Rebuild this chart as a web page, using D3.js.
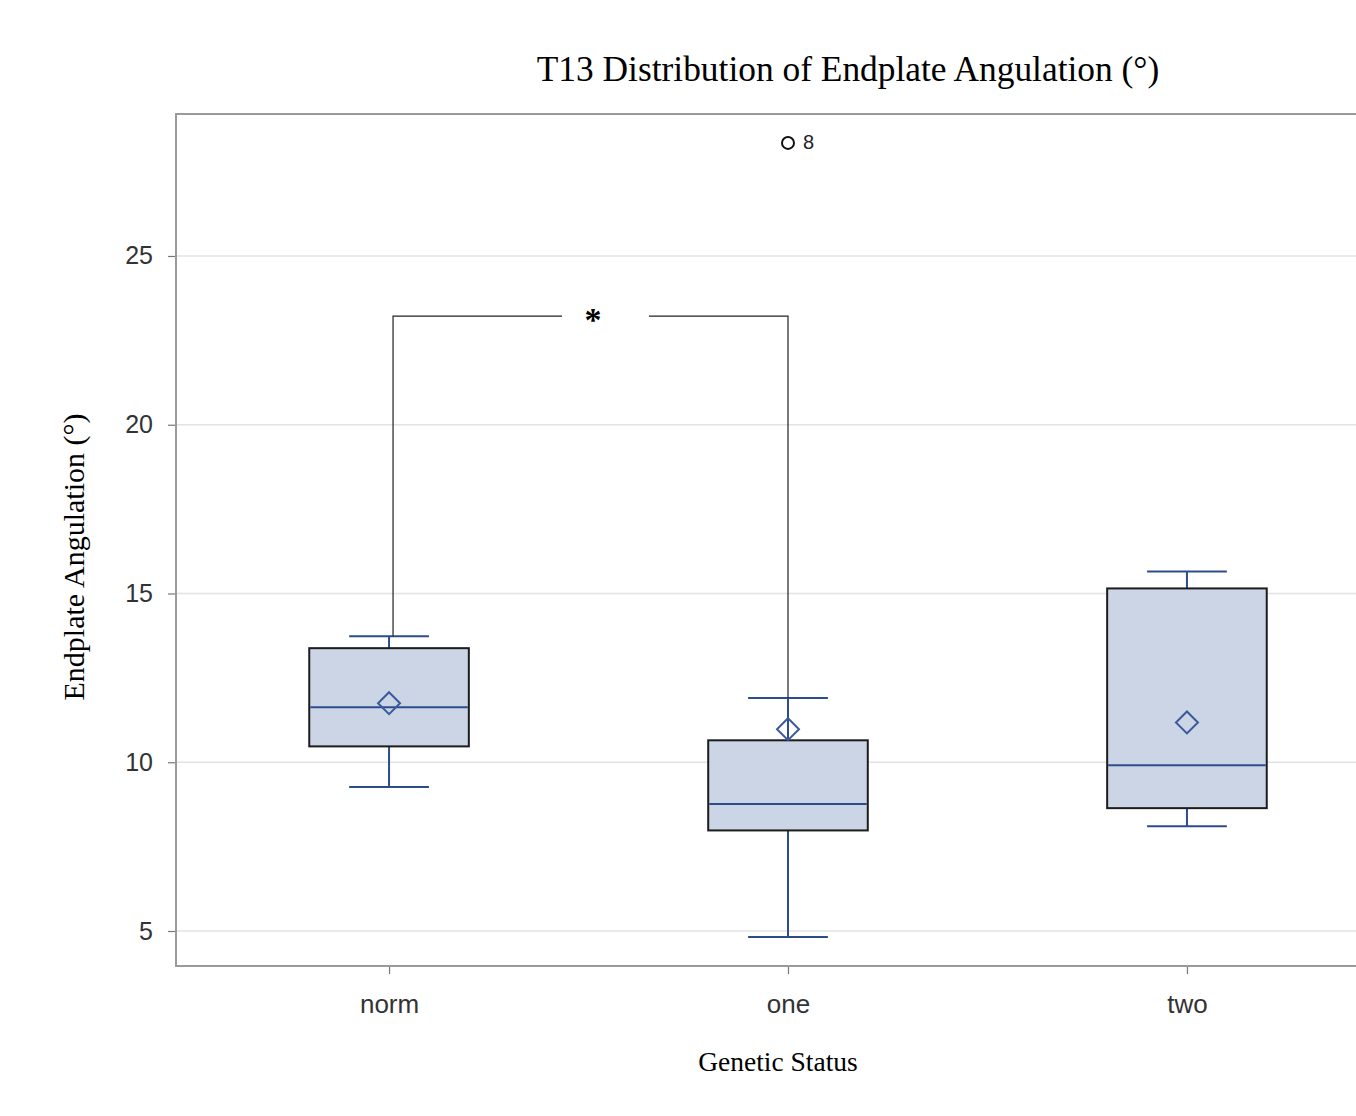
<!DOCTYPE html>
<html>
<head>
<meta charset="utf-8">
<script src="https://cdn.jsdelivr.net/npm/d3@7"></script>
<style>
  html, body { margin: 0; padding: 0; background: #fff; overflow: hidden; }
</style>
</head>
<body>
<div id="chart"></div>
<script>
// data
const categories = ['norm', 'one', 'two']
const whiskerLow = [9.27, 4.82, 8.1]
const q1 = [10.47, 7.98, 8.64]
const median = [11.63, 8.76, 9.91]
const q3 = [13.38, 10.65, 15.15]
const whiskerHigh = [13.73, 11.9, 15.65]
const means = [11.75, 10.98, 11.18]
const outlierCategory = ['one']
const outlierValue = [28.35]
const outlierLabel = ['8']
const yTicks = [5, 10, 15, 20, 25]
const sigPair = ['norm', 'one']
const sigLevel = 23.22

const width = 1356
const height = 1116
const plot = { left: 176, top: 114, right: 1400, bottom: 966 }

const svg = d3
  .select('#chart')
  .append('svg')
  .attr('width', width)
  .attr('height', height)

const x = d3.scalePoint().domain(categories).range([plot.left, plot.right]).padding(0.534)
const y = d3.scaleLinear().domain([3.963, 29.207]).range([plot.bottom, plot.top])
const step = x.step()
const boxW = step * 0.4
const capW = step * 0.2

const blue = '#2c4c8c'

// grid lines
svg
  .append('g')
  .selectAll('line')
  .data(yTicks)
  .join('line')
  .attr('x1', plot.left)
  .attr('x2', plot.right)
  .attr('y1', d => y(d))
  .attr('y2', d => y(d))
  .attr('stroke', '#e3e3e3')
  .attr('stroke-width', 1.5)

// y axis
const yAxis = svg
  .append('g')
  .attr('transform', `translate(${plot.left},0)`)
  .call(d3.axisLeft(y).tickValues(yTicks).tickSize(8).tickPadding(15))
yAxis.select('.domain').remove()
yAxis.selectAll('.tick line').attr('stroke', '#777').attr('stroke-width', 1.2)
yAxis
  .selectAll('.tick text')
  .attr('fill', '#333')
  .attr('font-family', 'Liberation Sans, Arial, sans-serif')
  .attr('font-size', 25)

// x axis
const xAxis = svg
  .append('g')
  .attr('transform', `translate(0,${plot.bottom})`)
  .call(d3.axisBottom(x).tickSize(8).tickPadding(21))
xAxis.select('.domain').remove()
xAxis.selectAll('.tick line').attr('stroke', '#777').attr('stroke-width', 1.2)
xAxis
  .selectAll('.tick text')
  .attr('fill', '#333')
  .attr('font-family', 'Liberation Sans, Arial, sans-serif')
  .attr('font-size', 26)

// plot frame
svg
  .append('rect')
  .attr('x', plot.left)
  .attr('y', plot.top)
  .attr('width', plot.right - plot.left)
  .attr('height', plot.bottom - plot.top)
  .attr('fill', 'none')
  .attr('stroke', '#9a9a9a')
  .attr('stroke-width', 2)

// boxes
const boxes = svg
  .append('g')
  .selectAll('g')
  .data(categories)
  .join('g')
  .attr('transform', d => `translate(${x(d)},0)`)

boxes
  .append('line')
  .attr('y1', (d, i) => y(whiskerLow[i]))
  .attr('y2', (d, i) => y(whiskerHigh[i]))
  .attr('stroke', blue)
  .attr('stroke-width', 2)

boxes
  .selectAll('.cap')
  .data((d, i) => [whiskerLow[i], whiskerHigh[i]])
  .join('line')
  .attr('class', 'cap')
  .attr('x1', -capW / 2)
  .attr('x2', capW / 2)
  .attr('y1', d => y(d))
  .attr('y2', d => y(d))
  .attr('stroke', blue)
  .attr('stroke-width', 2)

boxes
  .append('rect')
  .attr('x', -boxW / 2)
  .attr('width', boxW)
  .attr('y', (d, i) => y(q3[i]))
  .attr('height', (d, i) => y(q1[i]) - y(q3[i]))
  .attr('fill', '#cbd5e6')
  .attr('stroke', '#1c1c1c')
  .attr('stroke-width', 2)

boxes
  .append('line')
  .attr('x1', -boxW / 2 + 1)
  .attr('x2', boxW / 2 - 1)
  .attr('y1', (d, i) => y(median[i]))
  .attr('y2', (d, i) => y(median[i]))
  .attr('stroke', blue)
  .attr('stroke-width', 2)

// significance bracket
const bx1 = x(sigPair[0]) + 4
const bx2 = x(sigPair[1])
const by = y(sigLevel)
const bracket = svg.append('g').attr('stroke', '#222').attr('stroke-width', 1.2).attr('fill', 'none')
bracket
  .append('path')
  .attr('d', `M${bx1},${y(whiskerHigh[0])}V${by}H${bx1 + 169}`)
bracket
  .append('path')
  .attr('d', `M${bx2 - 139},${by}H${bx2}V${y(whiskerHigh[1])}`)
svg
  .append('text')
  .attr('x', bx1 + 200)
  .attr('y', by + 15)
  .attr('text-anchor', 'middle')
  .attr('font-family', 'Liberation Serif, Times New Roman, serif')
  .attr('font-weight', 'bold')
  .attr('font-size', 34)
  .text('*')

// mean diamonds
boxes
  .append('path')
  .attr('d', (d, i) => {
    const cy = y(means[i])
    const r = 11
    return `M0,${cy - r}L${r},${cy}L0,${cy + r}L${-r},${cy}Z`
  })
  .attr('fill', 'none')
  .attr('stroke', '#3a5a9c')
  .attr('stroke-width', 2)

// outliers
const outliers = svg
  .append('g')
  .selectAll('g')
  .data(outlierValue)
  .join('g')
  .attr('transform', (d, i) => `translate(${x(outlierCategory[i])},${y(d)})`)
outliers
  .append('circle')
  .attr('r', 6)
  .attr('fill', 'none')
  .attr('stroke', '#111')
  .attr('stroke-width', 2)
outliers
  .append('text')
  .attr('x', 15)
  .attr('y', 6)
  .attr('font-family', 'Liberation Sans, Arial, sans-serif')
  .attr('font-size', 20)
  .attr('fill', '#222')
  .text((d, i) => outlierLabel[i])

// titles
svg
  .append('text')
  .attr('x', 848)
  .attr('y', 81)
  .attr('text-anchor', 'middle')
  .attr('font-family', 'Liberation Serif, Times New Roman, serif')
  .attr('font-size', 35.4)
  .attr('fill', '#000')
  .text('T13 Distribution of Endplate Angulation (°)')

svg
  .append('text')
  .attr('x', 778)
  .attr('y', 1071)
  .attr('text-anchor', 'middle')
  .attr('font-family', 'Liberation Serif, Times New Roman, serif')
  .attr('font-size', 27.5)
  .attr('fill', '#000')
  .text('Genetic Status')

svg
  .append('text')
  .attr('transform', 'translate(84,557) rotate(-90)')
  .attr('text-anchor', 'middle')
  .attr('font-family', 'Liberation Serif, Times New Roman, serif')
  .attr('font-size', 30)
  .attr('fill', '#000')
  .text('Endplate Angulation (°)')
</script>
</body>
</html>
